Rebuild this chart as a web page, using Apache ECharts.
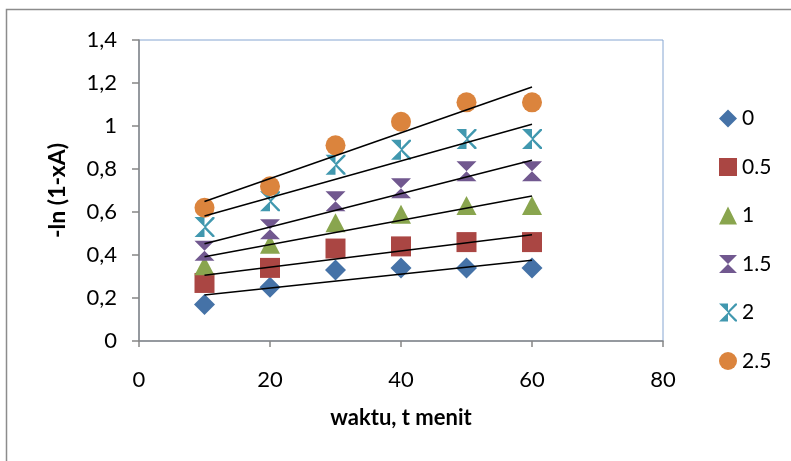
<!DOCTYPE html>
<html><head><meta charset="utf-8">
<script src="https://cdn.jsdelivr.net/npm/echarts@6/dist/echarts.min.js"></script>
<style>html,body{margin:0;padding:0;background:#fff}#c{width:791px;height:461px}</style>
</head><body><div id="c"></div>
<script>
const times = [10, 20, 30, 40, 50, 60];
const seriesNames = ['0', '0.5', '1', '1.5', '2', '2.5'];
const s0   = [0.17, 0.25, 0.33, 0.34, 0.34, 0.34];
const s05  = [0.27, 0.34, 0.43, 0.44, 0.46, 0.46];
const s1   = [0.35, 0.45, 0.55, 0.59, 0.63, 0.63];
const s15  = [0.42, 0.52, 0.65, 0.71, 0.79, 0.79];
const s2   = [0.53, 0.65, 0.82, 0.89, 0.94, 0.94];
const s25  = [0.62, 0.72, 0.91, 1.02, 1.11, 1.11];
const yTicks = ['0', '0,2', '0,4', '0,6', '0,8', '1', '1,2', '1,4'];
const xTicks = ['0', '20', '40', '60', '80'];

const allVals = [s0, s05, s1, s15, s2, s25];
const colors = ['#4572A7', '#AA4643', '#89A54E', '#71588F', '#4198AF', '#DB843D'];
const hourglass = 'path://M0,0 L10,0 L5,5 L10,10 L0,10 L5,5 Z';
const xmark = 'path://M0,0 L5,0 L5,5 Z M5,5 L5,10 L0,10 Z M5,4.2 L9,0 L10,0 L10,0.8 L5.8,5 L10,9.2 L10,10 L9,10 L5,5.8 Z';
const symbols = ['diamond', 'rect', 'triangle', hourglass, xmark, 'circle'];
const sizes = [[21, 21], [20, 20], [20, 19], [20, 20], [20, 20], [20, 20]];

function fit(xs, ys) {
  const n = xs.length;
  const mx = xs.reduce((a, b) => a + b, 0) / n;
  const my = ys.reduce((a, b) => a + b, 0) / n;
  let sxy = 0, sxx = 0;
  for (let i = 0; i < n; i++) { sxy += (xs[i] - mx) * (ys[i] - my); sxx += (xs[i] - mx) ** 2; }
  const b = sxy / sxx, a = my - b * mx;
  const x0 = xs[0], x1 = xs[n - 1];
  return [[x0, a + b * x0], [x1, a + b * x1]];
}

const series = [];
allVals.forEach((vals, i) => {
  series.push({
    name: seriesNames[i], type: 'scatter', symbol: symbols[i], symbolSize: sizes[i],
    itemStyle: { color: colors[i], opacity: 1 }, z: 2 + i,
    data: times.map((t, k) => [t, vals[k]])
  });
});
allVals.forEach((vals, i) => {
  series.push({
    name: 'trend' + i, type: 'line', symbol: 'none', silent: true, z: 20,
    lineStyle: { color: '#000', width: 1.5 },
    data: fit(times, vals)
  });
});

const font = 'Lato, "Noto Sans", sans-serif';
const chart = echarts.init(document.getElementById('c'), null, { renderer: 'canvas' });
chart.setOption({
  animation: false,
  backgroundColor: '#fff',
  graphic: [{ type: 'rect', shape: { x: 6.5, y: 9.5, width: 900, height: 600 }, style: { fill: 'none', stroke: '#8c8c8c', lineWidth: 1.5 }, z: -10 }],
  grid: { left: 139, right: 128, top: 40, bottom: 120, show: true, borderColor: '#86a6d2', borderWidth: 1, backgroundColor: 'transparent' },
  legend: {
    orient: 'vertical', left: 714, top: 103, itemGap: 27.5, itemWidth: 18, itemHeight: 18,
    data: seriesNames,
    textStyle: { fontFamily: font, fontSize: 21, color: '#000' }
  },
  xAxis: {
    type: 'value', min: 0, max: 80, interval: 20,
    name: 'waktu, t menit', nameLocation: 'middle', nameGap: 66,
    nameTextStyle: { fontFamily: font, fontSize: 22, fontWeight: 'bold', color: '#000' },
    axisLine: { show: true, lineStyle: { color: '#868686', width: 1.5 } },
    axisTick: { show: true, length: 6, lineStyle: { color: '#868686', width: 1.5 } },
    axisLabel: { fontFamily: font, fontSize: 22, color: '#000', margin: 28,
      formatter: v => xTicks[Math.round(v / 20)] },
    splitLine: { show: false }
  },
  yAxis: {
    type: 'value', min: 0, max: 1.4, interval: 0.2,
    name: '-ln (1-xA)', nameLocation: 'middle', nameGap: 70, nameRotate: 90,
    nameTextStyle: { fontFamily: font, fontSize: 23, fontWeight: 'bold', color: '#000' },
    axisLine: { show: true, lineStyle: { color: '#868686', width: 1.5 } },
    axisTick: { show: true, length: 7, lineStyle: { color: '#868686', width: 1.5 } },
    axisLabel: { fontFamily: font, fontSize: 22, color: '#000', margin: 22,
      formatter: v => yTicks[Math.round(v / 0.2)] },
    splitLine: { show: false }
  },
  series: series
});
</script></body></html>
